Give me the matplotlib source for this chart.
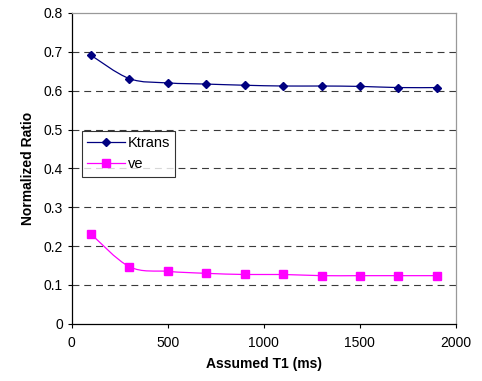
import numpy as np
import matplotlib
matplotlib.use("Agg")
import matplotlib.pyplot as plt
from matplotlib.path import Path
from matplotlib.patches import PathPatch

plt.rcParams["font.family"] = ["Liberation Sans", "DejaVu Sans"]

# data
t1 = [100, 300, 500, 700, 900, 1100, 1300, 1500, 1700, 1900]
ktrans = [0.691, 0.631, 0.620, 0.617, 0.614, 0.612, 0.612, 0.611, 0.608, 0.608]
ve = [0.231, 0.147, 0.135, 0.130, 0.127, 0.127, 0.124, 0.124, 0.124, 0.124]


def smooth_path(x, y):
    # excel-like smoothed line: cubic bezier through the points
    x = np.asarray(x, float)
    y = np.asarray(y, float)
    verts = [(x[0], y[0])]
    codes = [Path.MOVETO]
    n = len(x)
    for i in range(n - 1):
        x0, y0 = (x[i - 1], y[i - 1]) if i > 0 else (x[i], y[i])
        x3, y3 = (x[i + 2], y[i + 2]) if i + 2 < n else (x[i + 1], y[i + 1])
        c1 = (x[i] + (x[i + 1] - x0) / 6, y[i] + (y[i + 1] - y0) / 6)
        c2 = (x[i + 1] - (x3 - x[i]) / 6, y[i + 1] - (y3 - y[i]) / 6)
        verts += [c1, c2, (x[i + 1], y[i + 1])]
        codes += [Path.CURVE4] * 3
    return Path(verts, codes)


fig = plt.figure(figsize=(4.82, 3.81), dpi=100)
ax = fig.add_axes([0.149, 0.15, 0.797, 0.816])

for xs, ys, color, marker, ms, name in [
    (t1, ktrans, "#000080", "D", 4.3, "Ktrans"),
    (t1, ve, "#FF00FF", "s", 5.8, "ve"),
]:
    ax.add_patch(PathPatch(smooth_path(xs, ys), facecolor="none",
                           edgecolor=color, lw=0.9, zorder=3))
    ax.plot(xs, ys, linestyle="none", marker=marker, ms=ms, color=color,
            zorder=4)
    # legend proxy
    ax.plot([], [], color=color, lw=0.9, marker=marker, ms=ms, label=name)

ax.set_xlim(0, 2000)
ax.set_ylim(0, 0.8)
ax.set_xticks([0, 500, 1000, 1500, 2000])
ax.set_yticks(np.arange(0, 0.81, 0.1))
ax.set_yticklabels(["0", "0.1", "0.2", "0.3", "0.4", "0.5", "0.6", "0.7", "0.8"])

# dashed gridlines
for yv in np.arange(0.1, 0.75, 0.1):
    ax.axhline(yv, color="#3a3a3a", lw=0.8, dashes=(6.2, 4.4), zorder=1)

ax.spines["top"].set_color("#999999")
ax.spines["right"].set_color("#999999")
ax.spines["left"].set_color("black")
ax.spines["bottom"].set_color("black")
for s in ax.spines.values():
    s.set_linewidth(0.9)

ax.tick_params(axis="both", direction="out", length=3, width=0.8,
               labelsize=10, colors="black")
ax.tick_params(axis="x", pad=6)

ax.set_xlabel("Assumed T1 (ms)", fontsize=10, fontweight="bold", labelpad=5)
ax.set_ylabel("Normalized Ratio", fontsize=10, fontweight="bold", labelpad=6)

leg = ax.legend(loc="upper left", bbox_to_anchor=(0.026, 0.62),
                fontsize=10.5, frameon=True, fancybox=False, handlelength=2.6,
                borderpad=0.35, labelspacing=0.5, handletextpad=0.2,
                borderaxespad=0)
leg.get_frame().set_edgecolor("black")
leg.get_frame().set_linewidth(0.8)

fig.savefig("out.png", dpi=100)
